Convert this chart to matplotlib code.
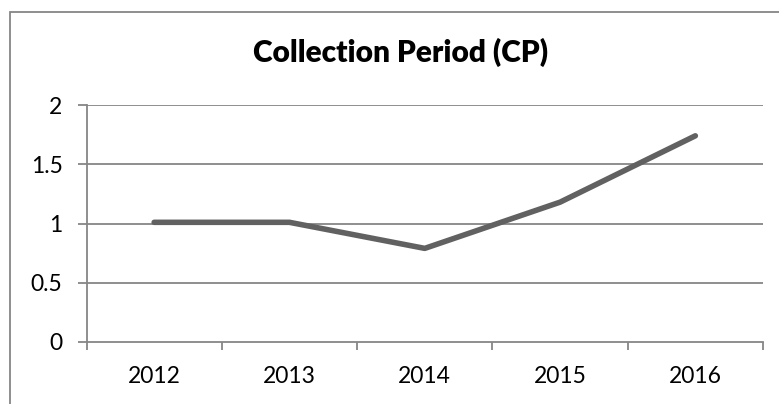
import matplotlib
matplotlib.use("Agg")
import matplotlib.pyplot as plt
from matplotlib.patches import Rectangle
import numpy as np

years = ["2012", "2013", "2014", "2015", "2016"]
cp_values = [1.01, 1.01, 0.79, 1.18, 1.74]
y_ticks = [0, 0.5, 1, 1.5, 2]
y_tick_labels = ["0", "0.5", "1", "1.5", "2"]
title = "Collection Period (CP)"

plt.rcParams['font.family'] = ['Lato', 'DejaVu Sans']

W, H = 779, 404
fig = plt.figure(figsize=(W / 100, H / 100), dpi=100)
fig.patch.set_facecolor("white")

# outer chart border (cropped at right/bottom)
fig.patches.append(Rectangle((10 / W, -0.1), 1.2, (H - 12) / H + 0.1,
                             transform=fig.transFigure, fill=False,
                             edgecolor="#868686", linewidth=1.3))

left, right, top, bottom = 86.5, 763, 105, 342
ax = fig.add_axes([left / W, 1 - bottom / H, (right - left) / W, (bottom - top) / H])

x = np.arange(len(years))
grid_color = "#868686"
for yv in y_ticks[1:]:
    ax.axhline(yv, color=grid_color, linewidth=1.3, zorder=1)

ax.plot(x, cp_values, color="#616161", linewidth=4, solid_capstyle="round",
        solid_joinstyle="round", zorder=3)

ax.set_xlim(-0.5, len(years) - 0.5)
ax.set_ylim(0, 2)

for s in ["top", "right"]:
    ax.spines[s].set_visible(False)
for s in ["left", "bottom"]:
    ax.spines[s].set_color(grid_color)
    ax.spines[s].set_linewidth(1.3)

ax.set_yticks(y_ticks)
ax.set_yticklabels(y_tick_labels)
ax.tick_params(axis="y", length=6.2, width=1.3, color=grid_color, pad=11,
               labelsize=16.5, labelcolor="black")

ax.set_xticks(x)
ax.set_xticklabels(years)
ax.tick_params(axis="x", which="major", length=0, pad=17, labelsize=16.5,
               labelcolor="black")
ax.set_xticks(np.arange(-0.5, len(years)), minor=True)
ax.tick_params(axis="x", which="minor", length=6, width=1.3, color=grid_color,
               direction="out")

fig.text(401 / W, 1 - 52 / H, title, ha="center", va="center",
         fontsize=21.5, fontweight="heavy", color="black")

fig.savefig("out.png", dpi=100, facecolor="white")
